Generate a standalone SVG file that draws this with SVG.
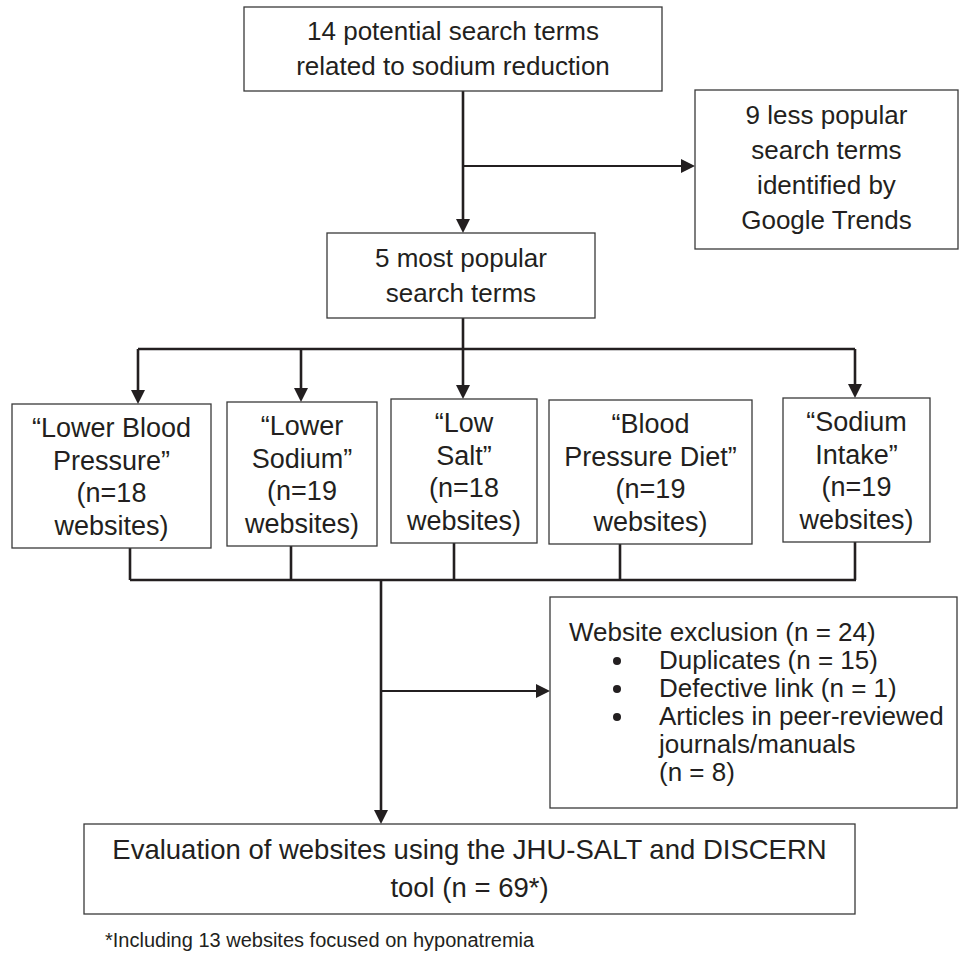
<svg xmlns="http://www.w3.org/2000/svg" width="960" height="954" viewBox="0 0 960 954">
<style>
  .box { fill: #ffffff; stroke: #3a3a3a; stroke-width: 1.3; }
  .t { font-family: "Liberation Sans", Arial, sans-serif; font-size: 26px; fill: #231f20; text-anchor: middle; }
  .t5 { font-family: "Liberation Sans", Arial, sans-serif; font-size: 27px; fill: #231f20; text-anchor: middle; }
  .tl { font-family: "Liberation Sans", Arial, sans-serif; font-size: 26px; fill: #231f20; }
  .c { fill: none; stroke: #231f20; stroke-width: 2.6; }
  .cs { fill: none; stroke: #231f20; stroke-width: 2; }
</style>
<defs>
  <marker id="ah" viewBox="0 0 14 14" markerUnits="userSpaceOnUse" markerWidth="14" markerHeight="14" refX="6" refY="7" orient="auto">
    <path d="M0,0 L14,7 L0,14 Z" fill="#231f20"/>
  </marker>
</defs>
<rect width="960" height="954" fill="#ffffff"/>

<g id="connectors">
  <path class="c" d="M463,91 V225" marker-end="url(#ah)"/>
  <path class="cs" d="M463,166 H687" marker-end="url(#ah)"/>
  <path class="c" d="M463,318 V349"/>
  <path class="c" d="M138,349 H855"/>
  <path class="c" d="M138,349 V396" marker-end="url(#ah)"/>
  <path class="c" d="M301,349 V394" marker-end="url(#ah)"/>
  <path class="c" d="M463,349 V391" marker-end="url(#ah)"/>
  <path class="c" d="M855,349 V390" marker-end="url(#ah)"/>
  <path class="c" d="M130,548 V580"/>
  <path class="c" d="M291,546 V580"/>
  <path class="c" d="M454,543 V580"/>
  <path class="c" d="M620,544 V580"/>
  <path class="c" d="M855,542 V580"/>
  <path class="c" d="M130,580 H856"/>
  <path class="c" d="M381,580 V816" marker-end="url(#ah)"/>
  <path class="cs" d="M381,691 H542" marker-end="url(#ah)"/>
</g>

<g id="n_potential">
  <rect class="box" x="244" y="7" width="418" height="84"/>
  <text class="t" x="453" y="40">14 potential search terms</text>
  <text class="t" x="453" y="75">related to sodium reduction</text>
</g>

<g id="n_less_popular">
  <rect class="box" x="695" y="90" width="263" height="159"/>
  <text class="t" x="826.5" y="124">9 less popular</text>
  <text class="t" x="826.5" y="159">search terms</text>
  <text class="t" x="826.5" y="194">identified by</text>
  <text class="t" x="826.5" y="229">Google Trends</text>
</g>

<g id="n_most_popular">
  <rect class="box" x="327" y="233" width="268" height="85"/>
  <text class="t" x="461" y="267">5 most popular</text>
  <text class="t" x="461" y="302">search terms</text>
</g>

<g id="n_lower_bp">
  <rect class="box" x="12" y="404" width="199" height="144"/>
  <text class="t5" x="111.5" y="437">“Lower Blood</text>
  <text class="t5" x="111.5" y="469.7">Pressure”</text>
  <text class="t5" x="111.5" y="502.3">(n=18</text>
  <text class="t5" x="111.5" y="535">websites)</text>
</g>

<g id="n_lower_sodium">
  <rect class="box" x="227" y="402" width="150" height="144"/>
  <text class="t5" x="302" y="435">“Lower</text>
  <text class="t5" x="302" y="467.7">Sodium”</text>
  <text class="t5" x="302" y="500.3">(n=19</text>
  <text class="t5" x="302" y="533">websites)</text>
</g>

<g id="n_low_salt">
  <rect class="box" x="391" y="399" width="146" height="144"/>
  <text class="t5" x="464" y="432">“Low</text>
  <text class="t5" x="464" y="464.7">Salt”</text>
  <text class="t5" x="464" y="497.3">(n=18</text>
  <text class="t5" x="464" y="530">websites)</text>
</g>

<g id="n_bp_diet">
  <rect class="box" x="549" y="400" width="203" height="144"/>
  <text class="t5" x="650.5" y="433">“Blood</text>
  <text class="t5" x="650.5" y="465.7">Pressure Diet”</text>
  <text class="t5" x="650.5" y="498.3">(n=19</text>
  <text class="t5" x="650.5" y="531">websites)</text>
</g>

<g id="n_sodium_intake">
  <rect class="box" x="783" y="398" width="147" height="144"/>
  <text class="t5" x="856.5" y="431">“Sodium</text>
  <text class="t5" x="856.5" y="463.7">Intake”</text>
  <text class="t5" x="856.5" y="496.3">(n=19</text>
  <text class="t5" x="856.5" y="529">websites)</text>
</g>

<g id="n_exclusion">
  <rect class="box" x="550" y="597" width="407" height="211"/>
  <text class="tl" x="569" y="641">Website exclusion (n = 24)</text>
  <circle cx="617" cy="661" r="4" fill="#231f20"/>
  <text class="tl" x="659" y="669">Duplicates (n = 15)</text>
  <circle cx="617" cy="689" r="4" fill="#231f20"/>
  <text class="tl" x="659" y="697">Defective link (n = 1)</text>
  <circle cx="617" cy="717" r="4" fill="#231f20"/>
  <text class="tl" x="659" y="725">Articles in peer-reviewed</text>
  <text class="tl" x="659" y="753">journals/manuals</text>
  <text class="tl" x="659" y="781">(n = 8)</text>
</g>

<g id="n_evaluation">
  <rect class="box" x="84" y="824" width="771" height="90"/>
  <text class="t" x="469.5" y="859" style="font-size:27.5px">Evaluation of websites using the JHU-SALT and DISCERN</text>
  <text class="t" x="469.5" y="897" style="font-size:27.5px">tool (n = 69*)</text>
</g>

<g id="footnote">
  <text class="tl" x="105" y="947" style="font-size:20px">*Including 13 websites focused on hyponatremia</text>
</g>
</svg>
